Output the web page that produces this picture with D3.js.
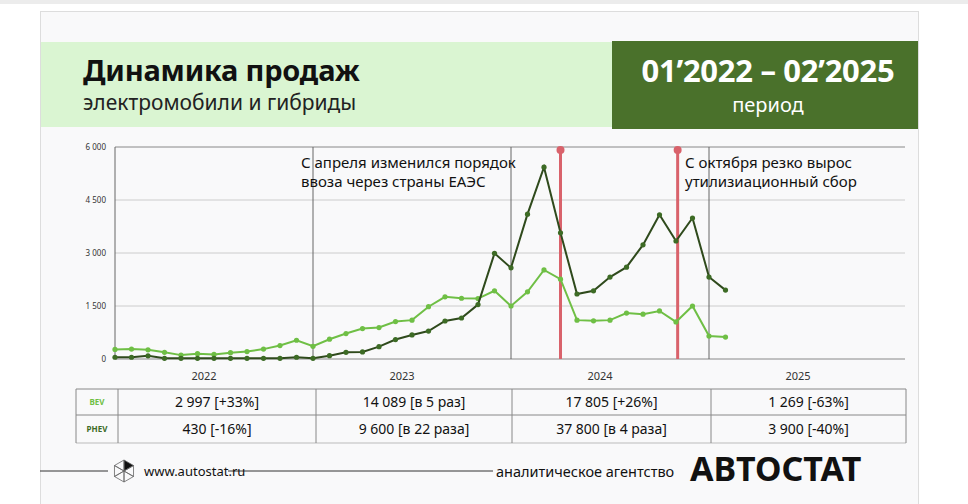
<!DOCTYPE html><html><head><meta charset="utf-8">
<script src="https://cdn.jsdelivr.net/npm/d3@7"></script>
<style>body{margin:0;background:#fff;font-family:"Noto Sans",sans-serif}</style></head><body>
<svg id="c" width="968" height="504"></svg>
<script>
const months = d3.range(38);
const bev = [270,280,260,190,110,150,130,180,210,280,380,530,
  360,560,720,860,890,1060,1100,1480,1760,1720,1710,1930,
  1500,1900,2520,2260,1100,1080,1100,1300,1270,1360,1050,1500,650,620];
const phev = [50,50,90,20,20,20,20,20,20,20,20,50,
  20,95,190,200,350,550,680,790,1075,1160,1540,2990,
  2580,4100,5430,3570,1840,1930,2320,2600,3230,4080,3340,3990,2320,1950];
const yTicks = [0,1500,3000,4500,6000];
const years = ["2022","2023","2024","2025"];
const tableRows = [
  {label:"BEV", vals:["2 997 [+33%]","14 089 [в 5 раз]","17 805 [+26%]","1 269 [-63%]"]},
  {label:"PHEV", vals:["430 [-16%]","9 600 [в 22 раза]","37 800 [в 4 раза]","3 900 [-40%]"]}];
const events = [27, 34.1];
const notes = [{t:["С апреля изменился порядок","ввоза через страны ЕАЭС"], x:301},
               {t:["С октября резко вырос","утилизиационный сбор"], x:685}];

const svg = d3.select("#c");
const F = '"Noto Sans",sans-serif';
svg.append("rect").attr("x",0).attr("y",0).attr("width",968).attr("height",4).attr("fill","#ececec");
svg.append("rect").attr("x",40.5).attr("y",11.5).attr("width",878).attr("height",500).attr("fill","#f9f9fa").attr("stroke","#ddd");
svg.append("rect").attr("x",41).attr("y",42).attr("width",572).attr("height",85).attr("fill","#daf5d2");
svg.append("rect").attr("x",612).attr("y",41).attr("width",306).attr("height",88).attr("fill","#4a712b");
svg.append("text").attr("x",83).attr("y",81).attr("font-family",F).attr("font-weight",700).attr("font-size",29).attr("fill","#111").attr("letter-spacing",-0.2).text("Динамика продаж");
svg.append("text").attr("x",83).attr("y",110).attr("font-family",F).attr("font-size",21).attr("fill","#222").text("электромобили и гибриды");
svg.append("text").attr("x",768).attr("y",82).attr("text-anchor","middle").attr("font-family",F).attr("font-weight",700).attr("font-size",31).attr("fill","#fff").attr("letter-spacing",-0.3).text("01’2022 – 02’2025");
svg.append("text").attr("x",768).attr("y",112).attr("text-anchor","middle").attr("font-family",F).attr("font-size",20).attr("fill","#fff").text("период");

const x = d3.scaleLinear().domain([0,37]).range([115,725.5]);
const y = d3.scaleLinear().domain([0,6000]).range([359,147]);
const g = svg.append("g");
g.selectAll(".gl").data(yTicks).join("line").attr("x1",115).attr("x2",905).attr("y1",d=>y(d)).attr("y2",d=>y(d))
 .attr("stroke",d=>d===0||d===6000?"#888":"#ccc").attr("stroke-width",1);
g.selectAll(".yl").data(yTicks).join("text").attr("x",106).attr("y",d=>y(d)+3).attr("text-anchor","end")
 .attr("font-family",F).attr("font-size",8).attr("fill","#333").text(d=>d3.format(",")(d).replace(","," "));
g.selectAll(".vl").data([0,12,24,36]).join("line").attr("x1",d=>x(d)).attr("x2",d=>x(d)).attr("y1",147).attr("y2",359).attr("stroke","#666");
g.selectAll(".yr").data(years).join("text").attr("x",(d,i)=>x(i*12+6)-10).attr("y",380).attr("text-anchor","middle")
 .attr("font-family",F).attr("font-size",11).attr("fill","#333").text(d=>d);
g.selectAll(".ev").data(events).join("line").attr("x1",d=>x(d)).attr("x2",d=>x(d)).attr("y1",150).attr("y2",359).attr("stroke","#d9626b").attr("stroke-width",3);
g.selectAll(".evd").data(events).join("circle").attr("cx",d=>x(d)).attr("cy",150).attr("r",4).attr("fill","#d9626b");
notes.forEach(n=>n.t.forEach((t,i)=>g.append("text").attr("x",n.x).attr("y",168+i*19).attr("font-family",F).attr("font-size",15).attr("fill","#111").text(t)));
const line = d3.line().x((d,i)=>x(i)).y(d=>y(d));
[[bev,"#6fbf45"],[phev,"#2f4a1c"]].forEach(([s,c])=>{
  g.append("path").datum(s).attr("d",line).attr("fill","none").attr("stroke",c).attr("stroke-width",2);
  g.selectAll(null).data(s).join("circle").attr("cx",(d,i)=>x(i)).attr("cy",d=>y(d)).attr("r",2.6).attr("fill",c==="#2f4a1c"?"#3d6b25":c);
});

const cols=[76,118,316,512,711,906];
const rowsY=[389,415,443];
tableRows.forEach((r,ri)=>{
  svg.append("text").attr("x",97).attr("y",(rowsY[ri]+rowsY[ri+1])/2+3).attr("text-anchor","middle").attr("font-family",F).attr("font-weight",700).attr("font-size",8).attr("fill",ri?"#3d6b25":"#6fbf45").text(r.label);
  r.vals.forEach((v,ci)=>svg.append("text").attr("x",(cols[ci+1]+cols[ci+2])/2).attr("y",(rowsY[ri]+rowsY[ri+1])/2+5).attr("text-anchor","middle").attr("font-family",F).attr("font-size",14).attr("fill","#111").text(v));
});
rowsY.forEach(yy=>svg.append("line").attr("x1",76).attr("x2",906).attr("y1",yy).attr("y2",yy).attr("stroke",yy===443?"#bbb":"#888"));
cols.forEach(xx=>svg.append("line").attr("x1",xx).attr("x2",xx).attr("y1",389).attr("y2",443).attr("stroke","#888"));

svg.append("line").attr("x1",40).attr("x2",108).attr("y1",471).attr("y2",471).attr("stroke","#333");
svg.append("line").attr("x1",228).attr("x2",493).attr("y1",471).attr("y2",471).attr("stroke","#333");
const lg=svg.append("g").attr("transform","translate(124,471)");
d3.range(6).forEach(k=>{const a=k*Math.PI/3-Math.PI/2, b=a+Math.PI/3;
  lg.append("path").attr("d",`M0,0L${11*Math.cos(a)},${11*Math.sin(a)}L${11*Math.cos(b)},${11*Math.sin(b)}Z`).attr("fill",k==0?"#111":"none").attr("stroke","#666").attr("stroke-width",0.8);});
svg.append("text").attr("x",144).attr("y",476).attr("font-family",F).attr("font-size",13).attr("fill","#111").text("www.autostat.ru");
svg.append("text").attr("x",496).attr("y",477).attr("font-family",F).attr("font-size",14.5).attr("fill","#111").text("аналитическое агентство");
svg.append("text").attr("x",690).attr("y",481).attr("font-family",F).attr("font-weight",700).attr("font-size",34).attr("fill","#111").text("АВТОСТАТ");
</script></body></html>
